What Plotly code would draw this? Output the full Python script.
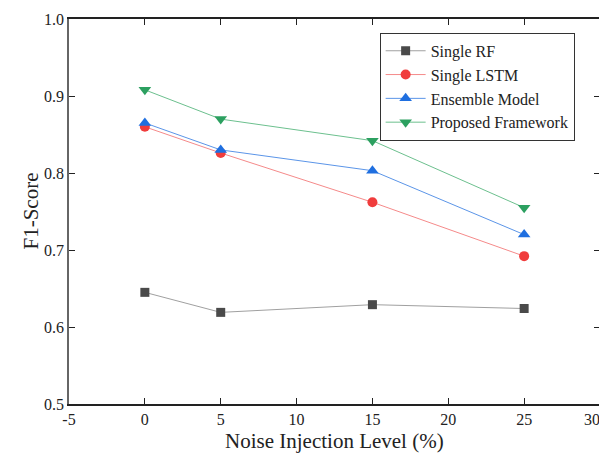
import plotly.graph_objects as go

noise = [0, 5, 15, 25]
single_rf = [0.645, 0.619, 0.629, 0.624]
single_lstm = [0.860, 0.826, 0.762, 0.692]
ensemble = [0.865, 0.830, 0.803, 0.720]
proposed = [0.908, 0.870, 0.842, 0.755]

x_ticks = [-5, 0, 5, 10, 15, 20, 25, 30]
x_ticktext = ["-5", "0", "5", "10", "15", "20", "25", "30\u00a0\u00a0\u00a0\u00a0"]
y_ticks = [0.5, 0.6, 0.7, 0.8, 0.9, 1.0]
y_ticktext = ["0.5", "0.6", "0.7", "0.8", "0.9", "1.0"]

series = [
    ("Single RF", single_rf, "#4a4a4a", "#a0a0a0", "square", 9),
    ("Single LSTM", single_lstm, "#f03c3c", "#f58a8a", "circle", 10),
    ("Ensemble Model", ensemble, "#1f6fe0", "#5b95e8", "triangle-up", 11),
    ("Proposed Framework", proposed, "#2ca060", "#6cc08e", "triangle-down", 11),
]

fig = go.Figure()
for name, vals, mc, lc, sym, sz in series:
    fig.add_trace(go.Scatter(
        x=noise, y=vals, name=name, mode="lines+markers",
        line=dict(color=lc, width=1),
        marker=dict(symbol=sym, size=sz, color=mc),
    ))

font = "Liberation Serif, Times New Roman, serif"
# the page body has an 8px margin, so the figure is sized/offset to compensate
fig.update_layout(
    width=599, height=453,
    margin=dict(l=61, r=7, t=11, b=57, autoexpand=False),
    paper_bgcolor="white", plot_bgcolor="white",
    font=dict(family=font, color="#222222", size=16),
    showlegend=True,
    legend=dict(
        x=0.585, y=0.964, xanchor="left", yanchor="top",
        bordercolor="#333333", borderwidth=1, bgcolor="white",
        font=dict(family=font, size=16, color="#222222"),
        tracegroupgap=0, itemwidth=40,
    ),
    xaxis=dict(
        range=[-5, 30], tickvals=x_ticks, ticktext=x_ticktext,
        ticks="inside", ticklen=6, tickcolor="#222222",
        showline=True, linecolor="#222222", linewidth=1.5, mirror="ticks",
        showgrid=False, zeroline=False, automargin=False,
        ticklabeloverflow="allow",
        tickfont=dict(size=16, family=font),
    ),
    yaxis=dict(
        range=[0.5, 1.0], tickvals=y_ticks, ticktext=y_ticktext,
        ticks="inside", ticklen=6, tickcolor="#222222",
        showline=True, linecolor="#666666", linewidth=1.5, mirror="ticks",
        showgrid=False, zeroline=False, automargin=False,
        ticklabeloverflow="allow",
        tickfont=dict(size=16, family=font),
    ),
    annotations=[
        dict(text="Noise Injection Level (%)", xref="paper", yref="paper",
             x=0.5, y=0, yshift=-37, xanchor="center", yanchor="middle",
             showarrow=False, font=dict(size=21, family=font, color="#222222")),
        dict(text="F1-Score", xref="paper", yref="paper",
             x=0, y=0.5, xshift=-39, xanchor="center", yanchor="middle",
             textangle=-90, showarrow=False,
             font=dict(size=21, family=font, color="#222222")),
    ],
)

fig.write_html("out.html")
